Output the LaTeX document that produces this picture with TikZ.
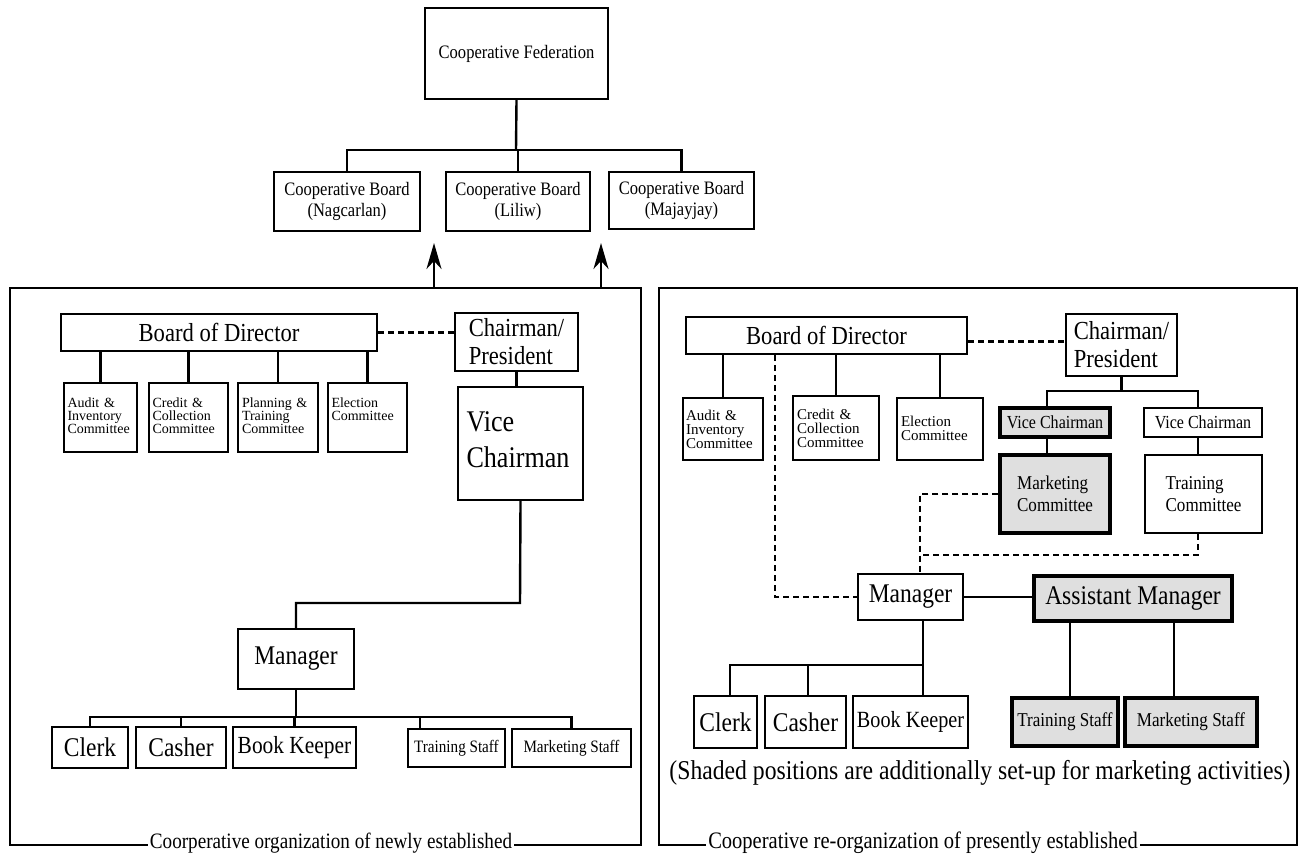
\documentclass[tikz,border=0pt]{standalone}
\usepackage{fontspec}
\setmainfont{Liberation Serif}[FakeStretch=0.87]
\newfontfamily\plainserif{Liberation Serif}
\usetikzlibrary{arrows.meta}
\newcommand\fsz[2]{\fontsize{#1}{#2}\selectfont}
\tikzset{rect/.code args={#1,#2,#3,#4}{%
  \pgfmathsetmacro\rw{((#3)-(#1))*0.5}%
  \pgfmathsetmacro\rh{((#4)-(#2))*0.5}%
  \pgfmathsetmacro\rcx{((#1)+(#3))/2}%
  \pgfmathsetmacro\rcy{((#2)+(#4))/2}%
  \edef\tmpkeys{minimum width=\rw pt, minimum height=\rh pt, at={(\rcx,\rcy)}}%
  \expandafter\pgfkeysalso\expandafter{\tmpkeys}}}
\begin{document}
\begin{tikzpicture}[x=0.5pt,y=-0.5pt,
  box/.style={draw, line width=1.2pt, inner sep=0pt, align=center},
  shaded/.style={box, fill=gray!25, line width=1.6pt},
  conn/.style={line width=1.2pt},
  dotconn/.style={line width=1.2pt, dash pattern=on 3pt off 2pt},
  panel/.style={draw, line width=1pt, inner sep=0pt},
  comm/.style={box, font=\plainserif\fsz{7}{6.6}, align=left},
  arrowline/.style={line width=1.2pt, -{Stealth[length=13pt,width=7.5pt,inset=4pt]}},
  plabel/.style={fill=white, inner xsep=1pt, inner ysep=0pt}]
\useasboundingbox (0,0) rectangle (1301,857);

% ---------- top ----------
\node[box, line width=1pt, rect={425,8,608,99}, font=\fsz{9.5}{11}] (fed) {Cooperative Federation};
\node[box, line width=1pt, rect={274,172,420,231}, font=\fsz{9.5}{10.5}] (boardN) {Cooperative Board\\(Nagcarlan)};
\node[box, line width=1pt, rect={446,172,590,231}, font=\fsz{9.5}{10.5}] (boardL) {Cooperative Board\\(Liliw)};
\node[box, line width=1pt, rect={609,172,754,229}, font=\fsz{9.5}{10.5}] (boardM) {Cooperative Board\\(Majayjay)};
\coordinate (bus) at (516,150);
\draw[conn] (fed.south) -- (bus);
\draw[conn] (boardN.north) |- (bus) -| (boardM.north);
\draw[conn] (boardL.north) -- (boardL.north |- bus);

% ---------- panels ----------
\node[panel, rect={10,288,641,845}] (panelL) {};
\node[panel, rect={659,288,1297,845}] (panelR) {};
\node[plabel, font=\fsz{11}{12}] (labL) at (331,843) {Coorperative organization of newly established};
\node[plabel, font=\fsz{11.8}{12}] (labR) at (923,843) {Cooperative re-organization of presently established};
\coordinate (tipL) at (434,243);
\coordinate (tipR) at (601,243);
\draw[arrowline] (panelL.north -| tipL) -- (tipL);
\draw[arrowline] (panelR.north -| tipR) -- (tipR);

% ---------- left panel ----------
\node[box, rect={61,314,377,351}, font=\fsz{13}{14}] (bodL) {Board of Director};
\node[box, rect={455,313,578,371}, font=\fsz{13}{14}, align=left] (chairL) {Chairman/\\President};
\draw[dotconn] (bodL.east) -- (bodL.east -| chairL.west);
\node[comm, rect={64,383,137,452}, text width=33pt, text depth=15pt] (audL) {Audit \&\\Inventory\\Committee};
\node[comm, rect={149,383,228,452}, text width=36pt, text depth=15pt] (credL) {Credit \&\\Collection\\Committee};
\node[comm, rect={238,383,318,452}, text width=36pt, text depth=15pt] (planL) {Planning \&\\Training\\Committee};
\node[comm, rect={328,383,407,452}, text width=36pt, text depth=15pt] (elecL) {Election\\Committee\\\mbox{}};
\foreach \n in {audL,credL,planL,elecL}
  \draw[conn] (\n.north) -- (\n.north |- bodL.south);
\node[box, rect={458,387,583,500}, font=\fsz{15}{18}, align=left, text width=54pt, text depth=22pt] (viceL) {Vice\\Chairman};
\draw[conn] (chairL.south) -- (chairL.south |- viceL.north);
\node[box, rect={238,629,354,689}, font=\fsz{13.5}{15}] (mgrL) {Manager};
\coordinate (jL) at (520,603);
\draw[conn] (viceL.south) -- (jL) -| (mgrL.north);
\node[box, rect={52,727,128,768}, font=\fsz{13.5}{15}] (clerkL) {Clerk};
\node[box, rect={136,727,226,768}, font=\fsz{13.5}{15}] (cashL) {Casher};
\node[box, rect={233,727,356,768}, font=\fsz{12.3}{15}] (bkL) {Book Keeper};
\node[box, rect={408,729,505,767}, font=\fsz{8.7}{9}] (trsL) {Training Staff};
\node[box, rect={512,729,631,767}, font=\fsz{8.7}{9}] (mksL) {Marketing Staff};
\coordinate (sbL) at (296,717);
\draw[conn] (mgrL.south) -- (mgrL.south |- sbL);
\draw[conn] (clerkL.north) |- (sbL) -| (mksL.north);
\draw[conn] (cashL.north) -- (cashL.north |- sbL);
\draw[conn] (bkL.north) -- (bkL.north |- sbL);
\draw[conn] (trsL.north -| 420,0) -- (420,717);

% ---------- right panel ----------
\node[box, rect={686,317,967,354}, font=\fsz{13}{14}] (bodR) {Board of Director};
\node[box, rect={1066,314,1177,376}, font=\fsz{13}{14}, align=left] (chairR) {Chairman/\\President};
\draw[dotconn] ([yshift=-3pt]bodR.east) -- ([yshift=-3pt]bodR.east -| chairR.west);
\node[comm, rect={683,398,763,460}, text width=37pt, font=\plainserif\fsz{7.5}{7}] (audR) {Audit \&\\Inventory\\Committee};
\node[comm, rect={793,396,879,460}, text width=39pt, font=\plainserif\fsz{7.5}{7}] (credR) {Credit \&\\Collection\\Committee};
\node[comm, rect={897,398,983,460}, text width=39pt, font=\plainserif\fsz{7.5}{7}, text depth=8pt] (elecR) {Election\\Committee};
\foreach \n in {audR,credR,elecR}
  \draw[conn] (\n.north) -- (\n.north |- bodR.south);
\node[shaded, rect={1000,408,1110,437}, font=\fsz{9.2}{10}] (vc1) {Vice Chairman};
\node[box, rect={1144,408,1262,437}, font=\fsz{9.2}{10}] (vc2) {Vice Chairman};
\coordinate (vbus) at (1121,391);
\draw[conn] (chairR.south) -- (chairR.south |- vbus);
\draw[conn] (vc1.north -| 1047,0) |- (vbus) -| (vc2.north -| 1198,0);
\node[shaded, rect={1000,455,1110,533}, font=\fsz{9.8}{11}, align=left] (mktC) {Marketing\\Committee};
\node[box, rect={1145,455,1262,533}, font=\fsz{9.8}{11}, align=left] (trC) {Training\\Committee};
\draw[conn] (vc1.south -| 1047,0) -- (mktC.north -| 1047,0);
\draw[conn] (vc2.south -| 1198,0) -- (trC.north -| 1198,0);
\node[box, rect={858,574,963,620}, font=\fsz{13.5}{15}] (mgrR) {Manager};
\node[shaded, rect={1034,576,1232,621}, font=\fsz{13.5}{15}] (asstR) {Assistant Manager};
\draw[conn] (mgrR.east) -- (mgrR.east -| asstR.west);
\draw[dotconn] (bodR.south -| 775,0) |- (mgrR.west);
\draw[dotconn] (mktC.west) -| (mgrR.north -| 920,0);
\coordinate (jD) at (920,555);
\draw[dotconn] (trC.south -| 1198,0) |- (jD);
\node[box, rect={694,696,757,748}, font=\fsz{13.5}{15}] (clerkR) {Clerk};
\node[box, rect={765,696,846,748}, font=\fsz{13.5}{15}] (cashR) {Casher};
\node[box, rect={853,696,968,748}, font=\fsz{11.6}{15}] (bkR) {Book Keeper};
\node[shaded, rect={1012,698,1118,746}, font=\fsz{9.8}{10}] (trsR) {Training Staff};
\node[shaded, rect={1125,698,1257,746}, font=\fsz{9.8}{10}] (mksR) {Marketing Staff};
\coordinate (sbR) at (923,665);
\draw[conn] (mgrR.south -| sbR) -- (sbR);
\draw[conn] (clerkR.north -| 730,0) |- (sbR) -- (bkR.north -| sbR);
\draw[conn] (cashR.north -| 808,0) -- (808,665);
\draw[conn] (asstR.south -| 1070,0) -- (trsR.north -| 1070,0);
\draw[conn] (asstR.south -| 1174,0) -- (mksR.north -| 1174,0);
\node[font=\fsz{13.6}{14}, inner sep=0pt] (note) at (980,773) {(Shaded positions are additionally set-up for marketing activities)};
\end{tikzpicture}
\end{document}
